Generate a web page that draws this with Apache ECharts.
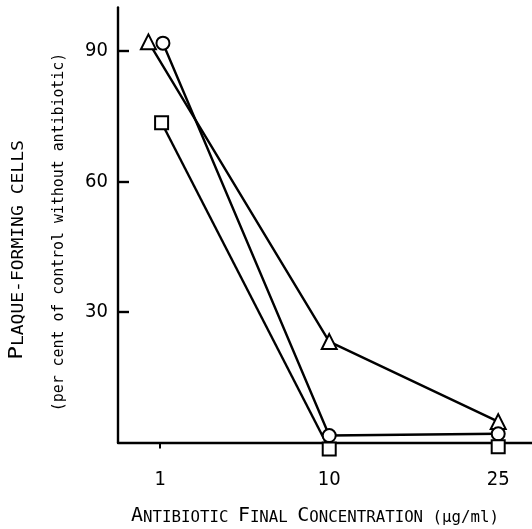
<!DOCTYPE html>
<html><head><meta charset="utf-8">
<script src="https://cdn.jsdelivr.net/npm/echarts@6/dist/echarts.min.js"></script>
<style>html,body{margin:0;padding:0;background:#fff}#c{width:532px;height:529px}</style>
</head><body><div id="c"></div>
<script>
// x axis: ordinal positions with their printed labels
const xTickPositions = [1, 2, 3];
const xTickLabels = ['1', '10', '25'];
const yTickValues = [30, 60, 90];
// series
const triangleX = [0.93, 2.0, 3.0];
const triangleY = [92.1, 23.2, 4.8];
const circleX = [1.016, 2.0, 3.0];
const circleY = [91.8, 1.6, 2.0];
const squareX = [1.008, 2.0, 3.0];
const squareY = [73.5, -1.5, -1.0];
// the square curve is only drawn as a line between its first two points
const squareLinePoints = 2;

const FONT = '"DejaVu Sans Mono", monospace';
const TICKFONT = '"DejaVu Sans Condensed", "DejaVu Sans Mono", monospace';
function pairs(xs, ys) { return xs.map((x, i) => [x, ys[i]]); }
function labelFor(v) {
  const i = xTickPositions.indexOf(Math.round(v));
  return i >= 0 ? xTickLabels[i] : '';
}
const itemStyle = { color: '#fff', borderColor: '#000', borderWidth: 2, opacity: 1 };
function mkSeries(name, symbol, data) {
  return {
    name, type: 'line', data, symbol, symbolSize: symbol === 'triangle' ? 15 : 13,
    clip: false, silent: true, animation: false, z: 3,
    lineStyle: { color: '#000', width: 2.4 },
    itemStyle
  };
}
const squares = pairs(squareX, squareY);
const chart = echarts.init(document.getElementById('c'), null, { renderer: 'canvas' });
chart.setOption({
  backgroundColor: '#fff',
  animation: false,
  grid: { left: 118, right: 0, top: 7.5, bottom: 86.5, containLabel: false },
  xAxis: {
    type: 'value', min: 0.75, max: 3.2,
    axisLine: { show: true, onZero: false, lineStyle: { color: '#000', width: 2.4 } },
    axisTick: { show: true, length: 6, inside: false, customValues: xTickPositions, lineStyle: { color: '#000', width: 2 } },
    axisLabel: { customValues: xTickPositions, formatter: labelFor, margin: 27, color: '#000', fontFamily: TICKFONT, fontSize: 20 },
    splitLine: { show: false }
  },
  yAxis: {
    type: 'value', min: 0, max: 100,
    axisLine: { show: true, lineStyle: { color: '#000', width: 2.4 } },
    axisTick: { show: true, inside: true, length: 11, customValues: yTickValues, lineStyle: { color: '#000', width: 2.4 } },
    axisLabel: { customValues: yTickValues, margin: 10, color: '#000', fontFamily: TICKFONT, fontSize: 20 },
    splitLine: { show: false }
  },
  series: [
    mkSeries('triangle', 'triangle', pairs(triangleX, triangleY)),
    mkSeries('circle', 'circle', pairs(circleX, circleY)),
    mkSeries('square', 'rect', squares.slice(0, squareLinePoints)),
    {
      name: 'square-end', type: 'scatter', data: squares.slice(squareLinePoints), symbol: 'rect', symbolSize: 13,
      clip: false, silent: true, z: 3, itemStyle
    }
  ],
  graphic: [
    {
      type: 'text', x: 17, y: 250, rotation: Math.PI / 2, scaleX: 1.2,
      style: {
        text: '{b|P}{s|LAQUE-FORMING CELLS}', align: 'center', verticalAlign: 'middle', fill: '#000',
        rich: {
          b: { fontFamily: FONT, fontSize: 19, verticalAlign: 'bottom', fill: '#000' },
          s: { fontFamily: FONT, fontSize: 15, verticalAlign: 'bottom', fill: '#000' }
        }
      }
    },
    {
      type: 'text', x: 59, y: 232, rotation: Math.PI / 2, scaleX: 0.93,
      style: {
        text: '(per cent of control without antibiotic)', align: 'center', verticalAlign: 'middle',
        fontFamily: FONT, fontSize: 16, fill: '#000'
      }
    },
    {
      type: 'text', x: 315, y: 516, scaleX: 1.05,
      style: {
        text: '{b|A}{s|NTIBIOTIC }{b|F}{s|INAL }{b|C}{s|ONCENTRATION (µg/ml)}', align: 'center', verticalAlign: 'middle', fill: '#000',
        rich: {
          b: { fontFamily: FONT, fontSize: 19, verticalAlign: 'bottom', fill: '#000' },
          s: { fontFamily: FONT, fontSize: 15, verticalAlign: 'bottom', fill: '#000' }
        }
      }
    }
  ]
});
</script></body></html>
